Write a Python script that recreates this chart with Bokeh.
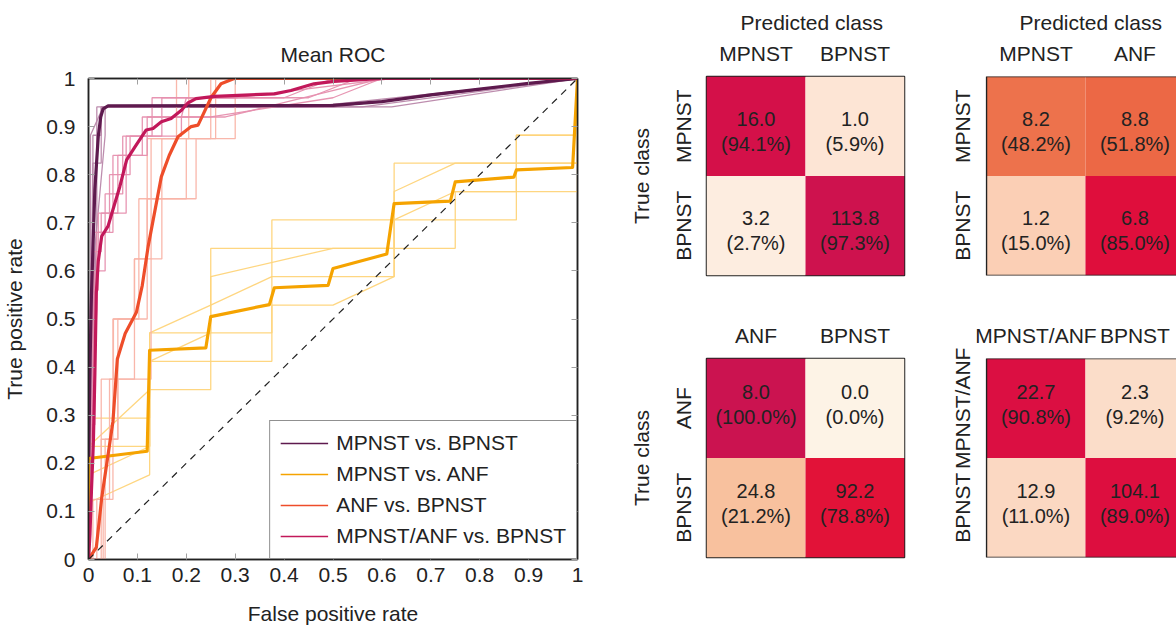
import numpy as np
from bokeh.plotting import figure
from bokeh.models import (Range1d, FixedTicker, LinearAxis, Legend, LegendItem,
                          ColumnDataSource, LinearColorMapper)
from bokeh.layouts import row, column
from bokeh.embed import file_html
from bokeh.resources import INLINE
from bokeh.core.properties import value

FONT = "Liberation Sans"
TXT = "#222222"
FS = "21px"

# ---------------- ROC data ----------------
roc_labels = ["MPNST vs. BPNST", "MPNST vs. ANF", "ANF vs. BPNST", "MPNST/ANF vs. BPNST"]
roc_ticks = [0, 0.1, 0.2, 0.3, 0.4, 0.5, 0.6, 0.7, 0.8, 0.9, 1]
roc_tick_labels = ["0", "0.1", "0.2", "0.3", "0.4", "0.5", "0.6", "0.7", "0.8", "0.9", "1"]
chance_fpr = [0, 1]
chance_tpr = [0, 1]

# mean curves
mean_fpr_mb = [0, 0, 0.003, 0.006, 0.013, 0.02, 0.025, 0.03, 0.04, 0.5, 0.6, 0.7, 0.8, 0.9, 1.0]
mean_tpr_mb = [0, 0.17, 0.40, 0.55, 0.77, 0.88, 0.92, 0.937, 0.943, 0.944, 0.952, 0.966, 0.978, 0.99, 1.0]

mean_fpr_ma = [0, 0, 0.12, 0.125, 0.24, 0.25, 0.37, 0.38, 0.49, 0.50, 0.61, 0.625, 0.74, 0.75, 0.87, 0.875, 0.99, 1.0]
mean_tpr_ma = [0, 0.21, 0.225, 0.435, 0.44, 0.505, 0.53, 0.565, 0.57, 0.605, 0.635, 0.74, 0.745, 0.785, 0.795, 0.81, 0.815, 1.0]

mean_fpr_ab = [0, 0.016, 0.027, 0.05, 0.059, 0.075, 0.098, 0.11, 0.122, 0.149, 0.165, 0.183,
               0.21, 0.224, 0.251, 0.271, 0.298, 1.0]
mean_tpr_ab = [0, 0.025, 0.128, 0.287, 0.417, 0.47, 0.514, 0.57, 0.651, 0.796, 0.84, 0.879,
               0.9, 0.903, 0.961, 0.989, 1.0, 1.0]

mean_fpr_xb = [0, 0.003, 0.006, 0.01, 0.013, 0.016, 0.02, 0.027, 0.04, 0.054, 0.064, 0.078, 0.095,
               0.118, 0.132, 0.149, 0.169, 0.19, 0.203, 0.22, 0.258, 0.38, 0.414, 0.461, 0.502, 0.6, 1.0]
mean_tpr_xb = [0, 0.052, 0.142, 0.245, 0.383, 0.555, 0.62, 0.672, 0.693, 0.741, 0.775, 0.831, 0.858,
               0.893, 0.896, 0.91, 0.917, 0.934, 0.949, 0.958, 0.963, 0.968, 0.975, 0.989, 0.994, 1.0, 1.0]

# per-fold curves
folds_fpr_mb = [
    [0, 0, 0.004, 0.009, 0.009, 0.026, 0.026, 0.50, 1],
    [0, 0, 0.017, 0.017, 0.56, 1],
    [0, 0, 0.004, 0.004, 0.030, 0.45, 1],
    [0, 0, 0.013, 0.034, 0.034, 0.62, 1],
    [0, 0, 0.009, 0.026, 0.026, 0.50, 1],
]
folds_tpr_mb = [
    [0, 0.176, 0.529, 0.588, 0.882, 0.882, 0.941, 0.941, 1],
    [0, 0.118, 0.706, 0.941, 0.941, 1],
    [0, 0.235, 0.529, 0.882, 0.941, 0.941, 1],
    [0, 0.176, 0.647, 0.882, 0.941, 0.941, 1],
    [0, 0.118, 0.824, 0.824, 0.941, 0.941, 1],
]

folds_fpr_ma = [
    [0, 0, 0.125, 0.125, 0.375, 0.375, 0.875, 0.875, 1, 1],
    [0, 0, 0.125, 0.25, 0.25, 0.75, 0.75, 1, 1],
    [0, 0, 0.125, 0.125, 0.375, 0.375, 0.5, 0.625, 0.625, 1, 1],
    [0, 0, 0.125, 0.125, 0.25, 0.25, 0.375, 0.625, 0.625, 0.75, 1, 1],
    [0, 0, 0.125, 0.125, 0.25, 0.25, 0.5, 0.625, 0.625, 0.75, 0.875, 0.875, 1, 1],
]
folds_tpr_ma = [
    [0, 0.294, 0.294, 0.471, 0.471, 0.706, 0.706, 0.882, 0.882, 1],
    [0, 0.235, 0.353, 0.353, 0.647, 0.647, 0.765, 0.765, 1],
    [0, 0.176, 0.235, 0.412, 0.412, 0.529, 0.529, 0.588, 0.824, 0.824, 1],
    [0, 0.118, 0.176, 0.412, 0.471, 0.529, 0.588, 0.588, 0.765, 0.824, 0.824, 1],
    [0, 0.235, 0.235, 0.471, 0.529, 0.588, 0.647, 0.647, 0.706, 0.765, 0.765, 0.882, 0.882, 1],
]

folds_fpr_ab = [
    [0, 0.017, 0.017, 0.026, 0.026, 0.051, 0.051, 0.094, 0.094, 0.12, 0.12, 0.205, 0.205, 1],
    [0, 0.026, 0.026, 0.06, 0.06, 0.12, 0.12, 0.22, 0.22, 0.25, 0.25, 1],
    [0, 0.03, 0.03, 0.043, 0.043, 0.094, 0.094, 0.15, 0.15, 0.26, 0.26, 1],
    [0, 0.009, 0.009, 0.05, 0.05, 0.103, 0.103, 0.128, 0.128, 0.18, 0.18, 1],
    [0, 0.034, 0.034, 0.06, 0.06, 0.128, 0.128, 0.2, 0.2, 0.3, 0.3, 1],
]
folds_tpr_ab = [
    [0, 0, 0.125, 0.125, 0.375, 0.375, 0.5, 0.5, 0.625, 0.625, 0.875, 0.875, 1, 1],
    [0, 0, 0.25, 0.25, 0.5, 0.5, 0.75, 0.75, 0.875, 0.875, 1, 1],
    [0, 0, 0.125, 0.125, 0.375, 0.375, 0.625, 0.625, 0.875, 0.875, 1, 1],
    [0, 0, 0.125, 0.125, 0.5, 0.5, 0.75, 0.75, 0.875, 0.875, 1, 1],
    [0, 0, 0.25, 0.25, 0.375, 0.375, 0.75, 0.75, 0.875, 0.875, 1, 1],
]

folds_fpr_xb = [
    [0, 0, 0.009, 0.009, 0.026, 0.026, 0.06, 0.06, 0.12, 0.12, 0.25, 0.5, 0.6, 1],
    [0, 0, 0.017, 0.017, 0.043, 0.043, 0.085, 0.085, 0.15, 0.15, 0.45, 0.55, 1],
    [0, 0.004, 0.013, 0.013, 0.034, 0.034, 0.07, 0.07, 0.19, 0.19, 0.2, 0.4, 0.5, 1],
    [0, 0, 0.009, 0.009, 0.05, 0.05, 0.11, 0.11, 0.28, 0.6, 1],
    [0, 0.004, 0.004, 0.02, 0.02, 0.077, 0.077, 0.13, 0.13, 0.3, 0.62, 1],
]
folds_tpr_xb = [
    [0, 0.2, 0.2, 0.64, 0.64, 0.72, 0.72, 0.84, 0.84, 0.92, 0.92, 0.96, 1, 1],
    [0, 0.12, 0.52, 0.68, 0.68, 0.8, 0.8, 0.88, 0.88, 0.96, 0.96, 1, 1],
    [0, 0.28, 0.28, 0.6, 0.6, 0.76, 0.76, 0.88, 0.88, 0.92, 0.96, 0.96, 1, 1],
    [0, 0.16, 0.4, 0.68, 0.68, 0.84, 0.84, 0.92, 0.92, 1, 1],
    [0, 0.08, 0.56, 0.56, 0.72, 0.72, 0.88, 0.88, 0.96, 0.96, 1, 1],
]

# ---------------- confusion matrices ----------------
cm1_rows = ["MPNST", "BPNST"]
cm1_cols = ["MPNST", "BPNST"]
cm1_counts = [[16.0, 1.0], [3.2, 113.8]]
cm1_pct = [[94.1, 5.9], [2.7, 97.3]]

cm2_rows = ["MPNST", "BPNST"]
cm2_cols = ["MPNST", "ANF"]
cm2_counts = [[8.2, 8.8], [1.2, 6.8]]
cm2_pct = [[48.2, 51.8], [15.0, 85.0]]

cm3_rows = ["ANF", "BPNST"]
cm3_cols = ["ANF", "BPNST"]
cm3_counts = [[8.0, 0.0], [24.8, 92.2]]
cm3_pct = [[100.0, 0.0], [21.2, 78.8]]

cm4_rows = ["MPNST/ANF", "BPNST"]
cm4_cols = ["MPNST/ANF", "BPNST"]
cm4_counts = [[22.7, 2.3], [12.9, 104.1]]
cm4_pct = [[90.8, 9.2], [11.0, 89.0]]

# colour map (cream -> orange -> red -> crimson)
anchor_pos = [0, 5, 10, 15, 21, 35, 50, 65, 80, 90, 95, 100]
anchor_col = ["#fdf3e6", "#fde7d9", "#fbdac5", "#fbcfb5", "#f8c29f", "#f39a72",
              "#ec6d47", "#e94236", "#e10e38", "#dd0e40", "#d2114b", "#cb1350"]


def hex2rgb(h):
    return [int(h[i:i + 2], 16) for i in (1, 3, 5)]


grid = np.linspace(0, 100, 256)
rgb = np.array([hex2rgb(c) for c in anchor_col], dtype=float)
palette = []
for g in grid:
    r = np.interp(g, anchor_pos, rgb[:, 0])
    gg = np.interp(g, anchor_pos, rgb[:, 1])
    b = np.interp(g, anchor_pos, rgb[:, 2])
    palette.append("#%02x%02x%02x" % (int(round(r)), int(round(gg)), int(round(b))))
mapper = LinearColorMapper(palette=palette, low=0, high=100)

# ---------------- ROC figure ----------------
p = figure(width=600, height=627, x_range=Range1d(0, 1), y_range=Range1d(0, 1),
           output_backend="svg", toolbar_location=None, title="Mean ROC",
           min_border_left=87, min_border_right=23, min_border_top=78, min_border_bottom=65)
p.title.align = "center"
p.title.text_font = FONT
p.title.text_font_size = FS
p.title.text_font_style = "normal"
p.title.text_color = TXT
p.title.standoff = 26
p.grid.visible = False
p.outline_line_color = TXT
p.outline_line_width = 1.5
p.background_fill_color = "white"

overrides = {t: l for t, l in zip(roc_ticks, roc_tick_labels)}
for ax in (p.xaxis[0], p.yaxis[0]):
    ax.ticker = FixedTicker(ticks=roc_ticks)
    ax.major_label_overrides = overrides
    ax.major_label_text_font = FONT
    ax.major_label_text_font_size = FS
    ax.major_label_text_color = TXT
    ax.axis_label_text_font = FONT
    ax.axis_label_text_font_size = FS
    ax.axis_label_text_font_style = "normal"
    ax.axis_label_text_color = TXT
    ax.major_tick_in = 6
    ax.major_tick_out = 0
    ax.major_tick_line_color = "#a0a0a0"
    ax.minor_tick_line_color = None
    ax.axis_line_color = TXT
    ax.axis_line_width = 1.5
p.xaxis.axis_label = "False positive rate"
p.yaxis.axis_label = "True positive rate"
p.xaxis.major_label_standoff = 8
p.xaxis.axis_label_standoff = 17
p.yaxis.major_label_standoff = 13
p.yaxis.axis_label_standoff = 17

for loc in ("right", "above"):
    ax = LinearAxis(ticker=FixedTicker(ticks=[], minor_ticks=roc_ticks),
                    minor_tick_in=6, minor_tick_out=0, minor_tick_line_color="#a0a0a0",
                    major_tick_line_color=None, axis_line_color=TXT, axis_line_width=1.5)
    p.add_layout(ax, loc)

fold_cols = ["#b987aa", "#fed47a", "#f9b3a6", "#e68fae"]
mean_cols = ["#5e1a4e", "#f5a300", "#ee4d2a", "#c2185a"]
fold_sets = [(folds_fpr_mb, folds_tpr_mb), (folds_fpr_ma, folds_tpr_ma),
             (folds_fpr_ab, folds_tpr_ab), (folds_fpr_xb, folds_tpr_xb)]
mean_sets = [(mean_fpr_mb, mean_tpr_mb), (mean_fpr_ma, mean_tpr_ma),
             (mean_fpr_ab, mean_tpr_ab), (mean_fpr_xb, mean_tpr_xb)]

for (fx, fy), c in zip(fold_sets, fold_cols):
    p.multi_line(xs=fx, ys=fy, line_color=c, line_width=1.3, line_alpha=0.95)

items = []
for (mx, my), c, lab in zip(mean_sets, mean_cols, roc_labels):
    thin = p.line(mx, my, line_color=c, line_width=1.5)
    p.line(mx, my, line_color=c, line_width=3.2, line_join="round")
    items.append(LegendItem(label=lab, renderers=[thin]))
p.line(chance_fpr, chance_tpr, line_color=TXT, line_width=1.2, line_dash="7 6")

legend = Legend(items=items, location="bottom_right", margin=0, padding=10, spacing=7,
                glyph_width=48, glyph_height=22, label_height=22, label_standoff=8,
                label_text_font=FONT, label_text_font_size=FS, label_text_color=TXT,
                border_line_color=TXT, border_line_width=1.5, background_fill_alpha=1)
p.add_layout(legend)


# ---------------- confusion-matrix figures ----------------
def make_cm(rows, cols, counts, pcts, width, height, b_left, b_right, b_top, b_bottom,
            x_end, clipped, text_dy, title=None, title_offset=34, ylabel=None):
    x_start = -0.01 if clipped else 0
    p2 = figure(width=width, height=height, x_range=Range1d(x_start, x_end), y_range=Range1d(2, 0),
                x_axis_location="above", output_backend="svg", toolbar_location=None,
                min_border_left=b_left, min_border_right=b_right,
                min_border_top=b_top, min_border_bottom=b_bottom)
    if title:
        p2.title.text = title
        p2.title.align = "left"
        p2.title.offset = title_offset
        p2.title.text_font = FONT
        p2.title.text_font_size = FS
        p2.title.text_font_style = "normal"
        p2.title.text_color = TXT
        p2.title.standoff = 10
    p2.grid.visible = False
    xs, ys, pc, txt = [], [], [], []
    for i in range(2):
        for j in range(2):
            xs.append(j + 0.5)
            ys.append(i + 0.5)
            pc.append(pcts[i][j])
            txt.append("%.1f\n(%.1f%%)" % (counts[i][j], pcts[i][j]))
    src = ColumnDataSource(dict(x=xs, y=ys, pct=pc, label=txt))
    p2.rect(x="x", y="y", width=1, height=1, source=src,
            fill_color={"field": "pct", "transform": mapper}, line_color=None)
    p2.text(x="x", y="y", text="label", source=src, text_align="center", text_baseline="middle",
            text_font=value(FONT), text_font_size="20px", text_color=TXT,
            text_line_height=1.15, y_offset=text_dy)
    if clipped:
        p2.outline_line_color = None
        p2.quad(left=[0], right=[2], top=[0], bottom=[2], fill_color=None,
                line_color=TXT, line_width=1.5)
    else:
        p2.outline_line_color = TXT
        p2.outline_line_width = 1.5
    ticks = [0.5, 1.5]
    for ax, labs, orient in ((p2.xaxis[0], cols, "horizontal"), (p2.yaxis[0], rows, "vertical")):
        ax.ticker = FixedTicker(ticks=ticks)
        ax.major_label_overrides = {t: c for t, c in zip(ticks, labs)}
        ax.major_label_orientation = orient
        ax.major_label_text_font = FONT
        ax.major_label_text_font_size = FS
        ax.major_label_text_color = TXT
        ax.axis_line_color = None
        ax.major_tick_line_color = None
        ax.minor_tick_line_color = None
        ax.major_tick_in = 0
        ax.major_tick_out = 0
        ax.axis_label_text_font = FONT
        ax.axis_label_text_font_size = FS
        ax.axis_label_text_font_style = "normal"
        ax.axis_label_text_color = TXT
    p2.xaxis.major_label_standoff = 12
    p2.yaxis.major_label_standoff = 12
    if ylabel:
        p2.yaxis.axis_label = ylabel
        p2.yaxis.axis_label_standoff = 16
    return p2


cm1 = make_cm(cm1_rows, cm1_cols, cm1_counts, cm1_pct, 340, 319, 106, 36, 76, 44, 2, False, 5,
              title="Predicted class", ylabel="True class")
cm2 = make_cm(cm2_rows, cm2_cols, cm2_counts, cm2_pct, 236, 319, 45, 0, 76, 44, 1.92, True, 5,
              title="Predicted class")
cm3 = make_cm(cm3_rows, cm3_cols, cm3_counts, cm3_pct, 340, 308, 106, 36, 39, 70, 2, False, -4,
              ylabel="True class")
cm4 = make_cm(cm4_rows, cm4_cols, cm4_counts, cm4_pct, 236, 308, 45, 0, 39, 70, 1.92, True, -4)

layout = row(p, column(row(cm1, cm2), row(cm3, cm4)))
open("out.html", "w").write(file_html(layout, INLINE))
